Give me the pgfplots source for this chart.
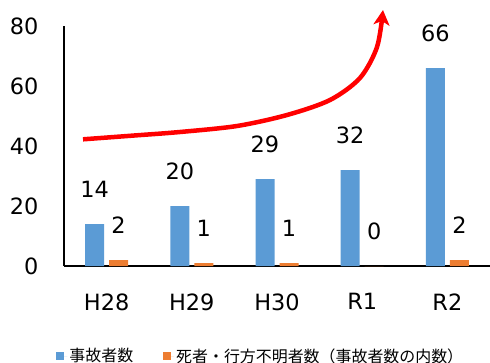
\documentclass[border=0pt]{standalone}
\usepackage{pgfplots}
\pgfplotsset{compat=1.18}
\usepackage{fontspec}
\setmainfont{DejaVu Sans}
\newfontfamily\jp{Noto Sans CJK JP}
\usetikzlibrary{arrows.meta}
\definecolor{cblue}{HTML}{5B9BD5}
\definecolor{corange}{HTML}{ED7D31}
\begin{document}
\begin{tikzpicture}
\useasboundingbox (-64bp,-97bp) rectangle (426bp,266bp);
\begin{axis}[at={(0,0)}, anchor=south west, scale only axis, width=426bp, height=240bp,
 xmin=-0.5, xmax=4.5, ymin=0, ymax=80, clip=false,
 axis lines*=left, axis line style={line width=1.5bp, -},
 xtick={0,...,4}, xticklabels={H28,H29,H30,R1,R2}, ytick={0,20,...,80},
 major tick length=0pt, tick style={draw=none},
 ticklabel style={font=\fontsize{22.5}{24}\selectfont},
 /pgf/number format/assume math mode=true,
 xticklabel style={yshift=-24bp}, yticklabel style={xshift=-22bp},
 bar width=19bp,
 legend style={at={(0.462,-0.375)}, anchor=center, draw=none, legend columns=2,
   font=\jp\fontsize{16}{18}\selectfont,
   /tikz/every even column/.append style={column sep=28bp}},
 legend image code/.code={\fill[#1] (0bp,-4bp) rectangle (8bp,4bp);\path (0bp,0bp) -- (11bp,0bp);},
]
\addplot[ybar, bar shift=-12bp, fill=cblue, draw=none,
  nodes near coords, every node near coord/.append style={font=\fontsize{22.5}{24}\selectfont, yshift=23bp, xshift=-12bp, black}]
  coordinates {(0,14) (1,20) (2,29) (3,32) (4,66)};
\addlegendentry{事故者数}
\addplot[ybar, bar shift=12bp, fill=corange, draw=none,
  nodes near coords, every node near coord/.append style={font=\fontsize{22.5}{24}\selectfont, yshift=23bp, xshift=12bp, black}]
  coordinates {(0,2) (1,1) (2,1) (3,0) (4,2)};
\addlegendentry{死者・行方不明者数（事故者数の内数）}
\addplot[forget plot, red, line width=4.5bp, smooth, -{Stealth[length=15bp,width=16bp,inset=4bp]}]
  coordinates {(-0.277,42.23) (0.310,43.47) (0.862,44.67) (1.531,46.67) (2.117,50.33) (2.622,55.33) (2.974,62.67) (3.174,73.0) (3.244,85.33)};
\end{axis}
\end{tikzpicture}
\end{document}
